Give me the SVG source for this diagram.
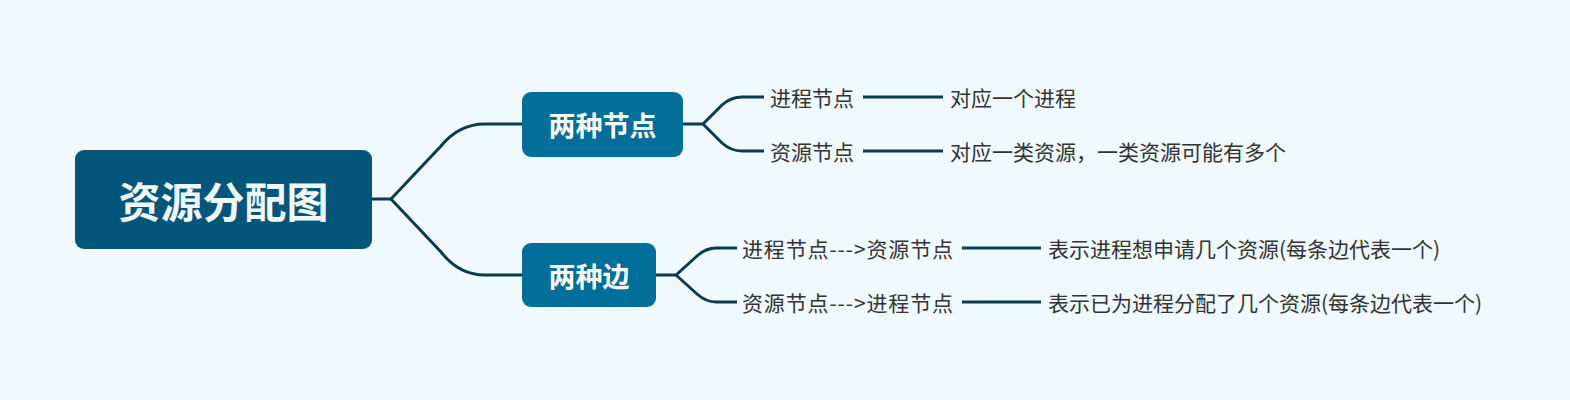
<svg xmlns="http://www.w3.org/2000/svg" width="1570" height="400" viewBox="0 0 1570 400">
<style>
.bg{fill:#EFF9FE}
.root rect{fill:#03557A}
.root text{fill:#EEF8FC;font:bold 42px "Noto Sans CJK SC",sans-serif;text-anchor:middle;dominant-baseline:central}
.main rect{fill:#016F99}
.main text{fill:#FFFFFF;font:bold 27px "Noto Sans CJK SC",sans-serif;text-anchor:middle;dominant-baseline:central}
.leaf text{fill:#333333;font:21px "Noto Sans CJK SC",sans-serif;dominant-baseline:central}
.conn path{fill:none;stroke:#0B3B50;stroke-width:3;stroke-linecap:butt}
</style>
<rect class="bg" x="0" y="0" width="1570" height="400"/>
<g class="conn" id="connectors">
<path d="M371,199 H391 L441,146 Q459,124 485,124 H522"/>
<path d="M391,199 L441,252 Q459,275 485,275 H522"/>
<path d="M683,124 H703 L722,105 Q731,97 742,97 H764"/>
<path d="M703,124 L722,143 Q731,151 742,151 H764"/>
<path d="M656,275 H676 L697,256 Q706,248 716,248 H737"/>
<path d="M676,275 L697,294 Q706,302 716,302 H737"/>
<path d="M863,97 H943"/>
<path d="M863,151 H943"/>
<path d="M962,248 H1041"/>
<path d="M962,302 H1041"/>
</g>
<g class="root" id="root"><rect x="75" y="150" width="297" height="99" rx="9"/><text x="223.5" y="199.5">资源分配图</text></g>
<g class="main" id="n1"><rect x="522" y="92" width="161" height="65" rx="9"/><text x="602.5" y="124.5">两种节点</text></g>
<g class="main" id="n2"><rect x="522" y="243" width="134" height="64" rx="9"/><text x="589" y="275">两种边</text></g>
<g class="leaf" id="l1"><text x="770" y="97">进程节点</text></g>
<g class="leaf" id="l2"><text x="770" y="151">资源节点</text></g>
<g class="leaf" id="l3"><text x="742" y="248" textLength="211" lengthAdjust="spacing">进程节点---&gt;资源节点</text></g>
<g class="leaf" id="l4"><text x="742" y="302" textLength="211" lengthAdjust="spacing">资源节点---&gt;进程节点</text></g>
<g class="leaf" id="d1"><text x="950" y="97">对应一个进程</text></g>
<g class="leaf" id="d2"><text x="950" y="151">对应一类资源，一类资源可能有多个</text></g>
<g class="leaf" id="d3"><text x="1048" y="248">表示进程想申请几个资源(每条边代表一个)</text></g>
<g class="leaf" id="d4"><text x="1048" y="302">表示已为进程分配了几个资源(每条边代表一个)</text></g>
</svg>
